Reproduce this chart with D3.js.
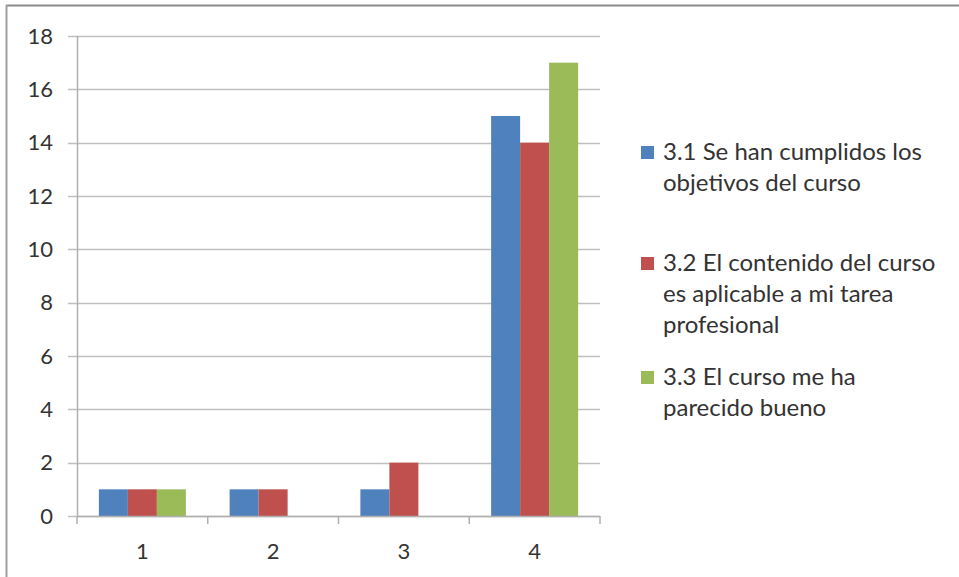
<!DOCTYPE html>
<html><head><meta charset="utf-8">
<script src="https://cdn.jsdelivr.net/npm/d3@7"></script>
<style>body{margin:0;background:#fff}svg{display:block}</style>
</head><body>
<script>
const categories = ["1","2","3","4"];
const seriesNames = ["3.1 Se han cumplidos los objetivos del curso","3.2 El contenido del curso es aplicable a mi tarea profesional","3.3 El curso me ha parecido bueno"];
const s1 = [1,1,1,15];
const s2 = [1,1,2,14];
const s3 = [1,0,0,17];
const yTicks = [0,2,4,6,8,10,12,14,16,18];
const legendLines = [["3.1 Se han cumplidos los","objetivos del curso"],["3.2 El contenido del curso","es aplicable a mi tarea","profesional"],["3.3 El curso me ha","parecido bueno"]];
const colors = ["#4F81BD","#C0504D","#9BBB59"];
const series = [s1,s2,s3];

const W=959,H=577;
const svg=d3.select("body").append("svg").attr("width",W).attr("height",H);
const font="Lato, 'Open Sans', sans-serif";
// outer frame
svg.append("line").attr("x1",6).attr("x2",W).attr("y1",5.5).attr("y2",5.5).attr("stroke","#8a8a8a").attr("stroke-width",2);
svg.append("line").attr("x1",6.5).attr("x2",6.5).attr("y1",5).attr("y2",H).attr("stroke","#a0a0a0").attr("stroke-width",2);

const x0=77,x1=600,yTop=36,yBot=516;
const x=d3.scaleBand().domain(categories).range([x0,x1]).paddingInner(0).paddingOuter(0);
const y=d3.scaleLinear().domain([0,18]).range([yBot,yTop]);
const groupW=87;
const xs=d3.scaleBand().domain([0,1,2]).range([0,groupW]);

// gridlines
svg.append("g").selectAll("line").data(yTicks).join("line")
 .attr("x1",68).attr("x2",x1).attr("y1",d=>Math.round(y(d))+0.5).attr("y2",d=>Math.round(y(d))+0.5)
 .attr("stroke","#c0c0c0").attr("stroke-width",1.5);

// bars
series.forEach((s,i)=>{
  svg.append("g").selectAll("rect").data(s.map((v,j)=>({v,c:categories[j]}))).join("rect")
   .attr("x",d=>x(d.c)+(x.bandwidth()-groupW)/2+xs(i))
   .attr("width",xs.bandwidth())
   .attr("y",d=>y(d.v)).attr("height",d=>yBot-y(d.v))
   .attr("fill",colors[i]);
});

// y axis line
svg.append("line").attr("x1",77.5).attr("x2",77.5).attr("y1",yTop).attr("y2",yBot).attr("stroke","#b0b0b0").attr("stroke-width",1.5);
// x axis
svg.append("line").attr("x1",77).attr("x2",x1).attr("y1",yBot+0.5).attr("y2",yBot+0.5).attr("stroke","#b0b0b0").attr("stroke-width",1.5);
const xTickPos=categories.map(c=>x(c)).concat([x1]);
svg.append("g").selectAll("line").data(xTickPos).join("line")
 .attr("x1",d=>d).attr("x2",d=>d).attr("y1",yBot).attr("y2",yBot+8).attr("stroke","#b0b0b0").attr("stroke-width",1.5);

// y tick labels
svg.append("g").selectAll("text").data(yTicks).join("text")
 .attr("x",53).attr("y",d=>y(d)).attr("dy","0.35em").attr("text-anchor","end")
 .attr("font-family",font).attr("font-size",22).attr("fill","#333").text(d=>d);
// x labels
svg.append("g").selectAll("text").data(categories).join("text")
 .attr("x",d=>x(d)+x.bandwidth()/2).attr("y",551).attr("dy","0.35em").attr("text-anchor","middle")
 .attr("font-family",font).attr("font-size",22).attr("fill","#333").text(d=>d);

// legend
const legY=[152,263,377];
legendLines.forEach((lines,i)=>{
  const g=svg.append("g");
  g.append("rect").attr("x",641).attr("y",legY[i]-6).attr("width",13).attr("height",13).attr("fill",colors[i]);
  g.selectAll("text").data(lines).join("text")
   .attr("x",663).attr("y",(d,k)=>legY[i]+k*31).attr("dy","0.35em")
   .attr("font-family",font).attr("font-size",24).attr("fill","#333").text(d=>d);
});
</script>
</body></html>
